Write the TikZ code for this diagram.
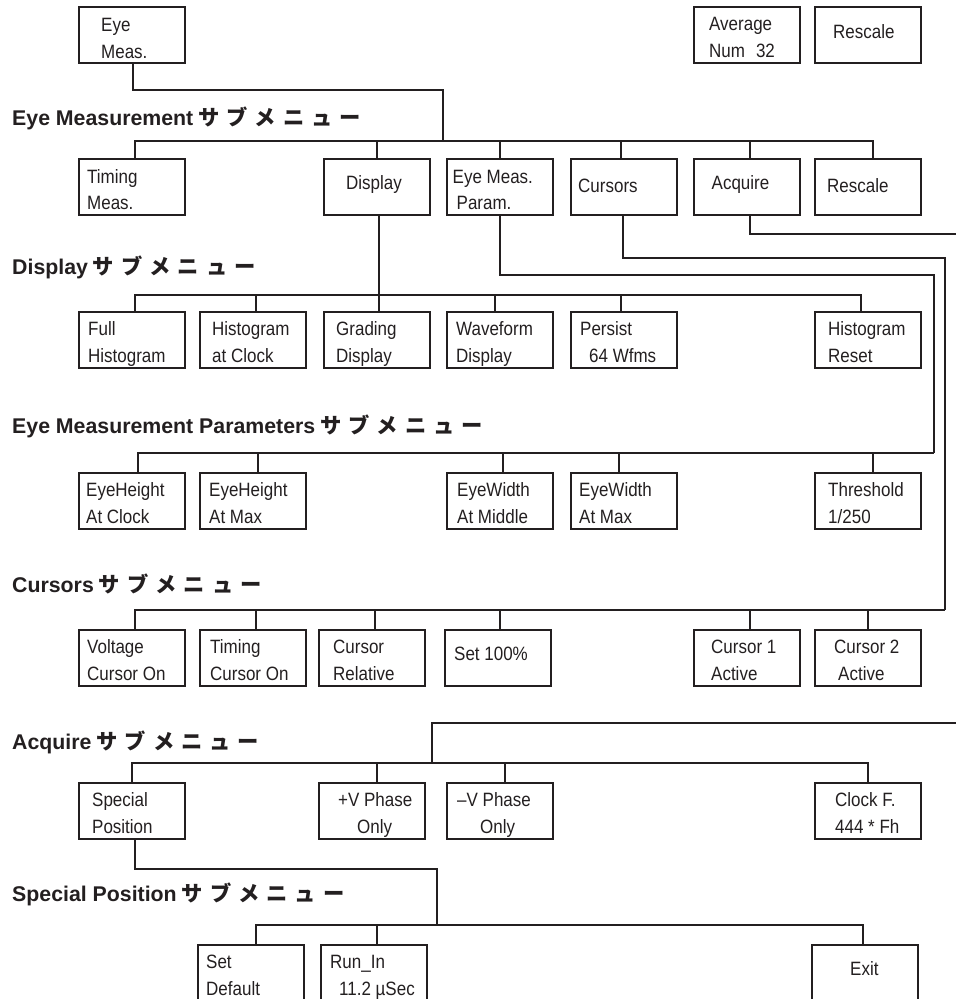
\documentclass[tikz,border=0pt]{standalone}
\usepackage{fontspec}
\setmainfont{Liberation Sans}
\newfontfamily\boxfont{Liberation Sans}[FakeStretch=0.88]
\newfontfamily\headfont{Liberation Sans}
\newfontfamily\cjk{Noto Sans CJK JP}
\definecolor{ink}{RGB}{35,31,32}

% "submenu" in katakana, widely spaced
\newcommand\submenu{{\cjk\bfseries サ\kern7ptブ\kern7ptメ\kern7ptニ\kern7ptュ\kern7ptー}}

% menu key: name, left x, top y, text indent, baseline of the last line, text
\newcommand\menubox[6]{%
  \node[mbox] (#1) at (#2,#3) {};
  \node[mtext] (#1t) at ([xshift=#4pt,yshift=-#5pt]#1.north west) {#6};
}

\begin{document}
\begin{tikzpicture}[x=1pt,y=-1pt,
  mbox/.style={draw=ink, line width=1.4pt, minimum width=106pt, minimum height=56pt,
               inner sep=0pt, outer sep=0pt, anchor=north west},
  mtext/.style={anchor=base west, inner sep=0pt, align=left, text=ink,
                font=\boxfont\fontsize{19.3pt}{26.5pt}\selectfont},
  head/.style={anchor=base west, inner sep=0pt, text=ink,
               font=\headfont\bfseries\fontsize{21.3pt}{24pt}\selectfont},
  wire/.style={draw=ink, line width=1.3pt}]
\useasboundingbox (0,0) rectangle (956,999);
\clip (0,0) rectangle (956,999);

% ---- top level keys
\menubox{em}{79}{7}{22}{51}{Eye\\Meas.}
\menubox{avg}{694}{7}{15}{50}{Average\\Num\hspace{11pt}32}
\menubox{rs0}{815}{7}{18}{31}{Rescale}

% ---- Eye Measurement submenu
\node[head] (h1) at (12,125) {Eye Measurement\hspace{5pt}\submenu};
\menubox{tim}{79}{159}{8}{50.5}{Timing\\Meas.}
\menubox{dsp}{324}{159}{22}{30}{Display}
\menubox{emp}{447}{159}{5.5}{50.5}{Eye Meas.\\\hspace*{4pt}Param.}
\menubox{cur}{571}{159}{7}{33}{Cursors}
\menubox{acq}{694}{159}{17.5}{30}{Acquire}
\menubox{rs1}{815}{159}{12}{33}{Rescale}

% ---- Display submenu
\node[head] (h2) at (12,274) {Display\hspace{5pt}\submenu};
\menubox{fh}{79}{312}{9}{50}{Full\\Histogram}
\menubox{hac}{200}{312}{12}{50}{Histogram\\at Clock}
\menubox{gd}{324}{312}{12}{50}{Grading\\Display}
\menubox{wd}{447}{312}{9}{50}{Waveform\\Display}
\menubox{per}{571}{312}{9}{50}{Persist\\\hspace*{9pt}64 Wfms}
\menubox{hr}{815}{312}{13}{50}{Histogram\\Reset}

% ---- Eye Measurement Parameters submenu
\node[head] (h3) at (12,433) {Eye Measurement Parameters\hspace{5pt}\submenu};
\menubox{ehc}{79}{473}{7}{50}{EyeHeight\\At Clock}
\menubox{ehm}{200}{473}{9}{50}{EyeHeight\\At Max}
\menubox{ewm}{447}{473}{10}{50}{EyeWidth\\At Middle}
\menubox{ewx}{571}{473}{8}{50}{EyeWidth\\At Max}
\menubox{thr}{815}{473}{13}{50}{Threshold\\1/250}

% ---- Cursors submenu
\node[head] (h4) at (12,592) {Cursors\hspace{5pt}\submenu};
\menubox{vco}{79}{630}{8}{50}{Voltage\\Cursor On}
\menubox{tco}{200}{630}{10}{50}{Timing\\Cursor On}
\menubox{crl}{319}{630}{14}{50}{Cursor\\Relative}
\menubox{s100}{445}{630}{9}{30}{Set 100\%}
\menubox{c1a}{694}{630}{17}{50}{Cursor 1\\Active}
\menubox{c2a}{815}{630}{19}{50}{Cursor 2\\\hspace*{4pt}Active}

% ---- Acquire submenu
\node[head] (h5) at (12,749) {Acquire\hspace{5pt}\submenu};
\menubox{sp}{79}{783}{13}{50}{Special\\Position}
\menubox{vp}{319}{783}{19}{50}{+V Phase\\\hspace*{19pt}Only}
\menubox{vm}{447}{783}{10}{50}{–V Phase\\\hspace*{23pt}Only}
\menubox{clk}{815}{783}{20}{50}{Clock F.\\444 * Fh}

% ---- Special Position submenu
\node[head] (h6) at (12,901) {Special Position\hspace{5pt}\submenu};
\menubox{sd}{198}{945}{8}{50}{Set\\Default}
\menubox{ri}{321}{945}{9}{50}{Run\_In\\\hspace*{9pt}11.2 µSec}
\menubox{ex}{812}{945}{38}{30}{Exit}

% ---- connectors
% Eye Meas. -> its submenu
\coordinate (k1) at (443,90);
\coordinate (j1) at (443,141);
\draw[wire] ([xshift=1pt]em.south) |- (k1) -- (j1);
\foreach \n/\s in {tim/3,dsp/0,emp/0,cur/-3,acq/3,rs1/5}
  \draw[wire] ([xshift=\s pt]\n.north) |- (j1);

% Display -> its submenu
\coordinate (j2) at (379,295);
\draw[wire] ([xshift=2pt]dsp.south) -- ([xshift=2pt]gd.north);
\foreach \n/\s in {fh/3,hac/3,wd/-5,per/-3,hr/-7}
  \draw[wire] ([xshift=\s pt]\n.north) |- (j2);

% Eye Meas. Param. -> its submenu
\coordinate (k3) at (934,275);
\coordinate (j3) at (934,453);
\draw[wire] (emp.south) |- (k3) -- (j3);
\foreach \n/\s in {ehc/6,ehm/5,ewm/3,ewx/-5,thr/5}
  \draw[wire] ([xshift=\s pt]\n.north) |- (j3);

% Cursors -> its submenu
\coordinate (k4) at (945,258);
\coordinate (j4) at (945,610);
\draw[wire] ([xshift=-1pt]cur.south) |- (k4) -- (j4);
\foreach \n/\s in {vco/3,tco/3,crl/3,s100/2,c1a/3,c2a/0}
  \draw[wire] ([xshift=\s pt]\n.north) |- (j4);

% Acquire -> its submenu (routed off the right edge and back)
\coordinate (acqout) at (960,234);
\draw[wire] ([xshift=3pt]acq.south) |- (acqout);
\coordinate (acqin) at (960,723);
\coordinate (j5) at (432,763);
\draw[wire] (acqin) -| (j5);
\foreach \n/\s in {sp/0,vp/5,vm/5,clk/0}
  \draw[wire] ([xshift=\s pt]\n.north) |- (j5);

% Special Position -> its submenu
\coordinate (k6) at (437,869);
\coordinate (j6) at (437,925);
\draw[wire] ([xshift=3pt]sp.south) |- (k6) -- (j6);
\foreach \n/\s in {sd/5,ri/3,ex/-2}
  \draw[wire] ([xshift=\s pt]\n.north) |- (j6);
\end{tikzpicture}
\end{document}
